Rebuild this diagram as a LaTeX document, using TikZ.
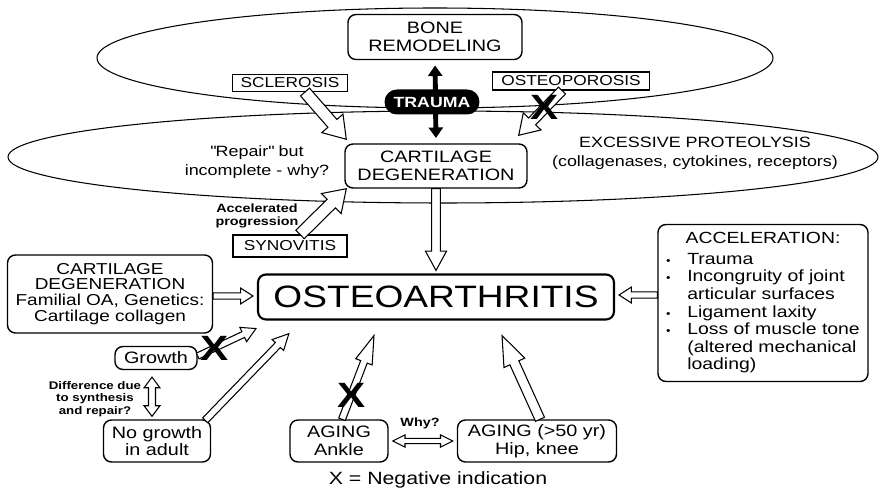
\documentclass[tikz,border=0pt]{standalone}
\usepackage{fontspec}
\setmainfont{Liberation Sans}[FakeStretch=1.2]
\usetikzlibrary{calc,arrows.meta}

\tikzset{
  box/.style={draw, rounded corners=4.5pt, fill=white, line width=0.8pt, align=center, inner sep=0pt, font=\fontsize{9.4}{10.5}\selectfont},
  tag/.style={draw, fill=white, line width=0.6pt, inner sep=0pt, font=\fontsize{8.2}{10}\selectfont},
  note/.style={align=center, font=\fontsize{8.5}{10.8}\selectfont},
  small/.style={align=center, font=\fontsize{6.8}{7}\selectfont\bfseries},
  nomark/.style={inner sep=0pt, font=\fontsize{20}{20}\selectfont\bfseries},
  hollow/.style={draw, fill=white, line width=0.6pt, line join=miter},
}

\newcommand{\dotitem}{\makebox[12pt][l]{\fontsize{6}{6}\selectfont\textbullet}}

% tail, tip, shaft half width, head half width, head length
\newcommand{\hollowarrow}[6][]{%
  \path[hollow,#1] let \p1=(#2), \p2=(#3),
      \n1={atan2(\y2-\y1,\x2-\x1)}, \n2={veclen(\x2-\x1,\y2-\y1)} in
    [shift={(\p1)}, rotate=\n1]
    (0,#4) -- (\n2-#6,#4) -- (\n2-#6,#5) -- (\n2,0)
    -- (\n2-#6,-#5) -- (\n2-#6,-#4) -- (0,-#4) -- cycle;}
\newcommand{\hollowdarrow}[6][]{%
  \path[hollow,#1] let \p1=(#2), \p2=(#3),
      \n1={atan2(\y2-\y1,\x2-\x1)}, \n2={veclen(\x2-\x1,\y2-\y1)} in
    [shift={(\p1)}, rotate=\n1]
    (0,0) -- (#6,#5) -- (#6,#4) -- (\n2-#6,#4) -- (\n2-#6,#5) -- (\n2,0)
    -- (\n2-#6,-#5) -- (\n2-#6,-#4) -- (#6,-#4) -- (#6,-#5) -- cycle;}

\begin{document}
\begin{tikzpicture}[x=0.02cm, y=-0.02cm]
    \useasboundingbox (0,0) rectangle (879,489);

    \draw[line width=0.6pt] (435,58) ellipse [x radius=338, y radius=50];
    \draw[line width=0.6pt] (443,157) ellipse [x radius=435, y radius=46];

    \node[box, minimum width=3.48cm, minimum height=0.9cm] (bone) at (435,37) {BONE\\REMODELING};
    \node[box, minimum width=3.64cm, minimum height=0.88cm] (cart) at (436,166) {CARTILAGE\\DEGENERATION};
    \node[tag, minimum width=2.3cm, minimum height=0.34cm] (scler) at (290,83) {SCLEROSIS};
    \node[tag, minimum width=3.14cm, minimum height=0.36cm] (osteo) at (571,81) {OSTEOPOROSIS};
    \node[tag, minimum width=2.28cm, minimum height=0.44cm] (synov) at (290,246) {SYNOVITIS};
    \node[box, line width=1.2pt, minimum width=7.12cm, minimum height=0.9cm, font=\fontsize{17.6}{18}\selectfont] (oa) at (436,297) {OSTEOARTHRITIS};
    \node[box, minimum width=4.1cm, minimum height=1.56cm, font=\fontsize{9}{9}\selectfont] (cartleft) at (110,294) {CARTILAGE\\DEGENERATION\\Familial OA, Genetics:\\Cartilage collagen};
    \node[box, minimum width=4.2cm, minimum height=3.14cm, font=\fontsize{9.2}{10}\selectfont] (accel) at (763,303) {%
      \begin{tabular}{@{}l@{}}
        \multicolumn{1}{c}{ACCELERATION:}\\[2pt]
        \dotitem Trauma\\
        \dotitem Incongruity of joint\\
        \hspace*{12pt}articular surfaces\\
        \dotitem Ligament laxity\\
        \dotitem Loss of muscle tone\\
        \hspace*{12pt}(altered mechanical\\
        \hspace*{12pt}loading)
      \end{tabular}};
    \node[box, minimum width=1.64cm, minimum height=0.46cm] (growth) at (156,358) {Growth};
    \node[box, minimum width=2.14cm, minimum height=0.84cm, font=\fontsize{9.4}{10}\selectfont] (nogrowth) at (157,441) {No growth\\in adult};
    \node[box, minimum width=1.96cm, minimum height=0.84cm, font=\fontsize{9.4}{10}\selectfont] (ankle) at (339,441) {AGING\\Ankle};
    \node[box, minimum width=3.18cm, minimum height=0.84cm, font=\fontsize{9.4}{10}\selectfont] (hip) at (537,441) {AGING (>50 yr)\\Hip, knee};

    \node[note] (repair) at (257,162) {\textquotedbl Repair\textquotedbl\ but\\incomplete - why?};
    \node[note] (excess) at (695,153) {EXCESSIVE PROTEOLYSIS\\(collagenases, cytokines, receptors)};
    \node[small] (accprog) at (257,216) {Accelerated\\progression};
    \node[small, font=\fontsize{6.3}{7.2}\selectfont\bfseries] (diff) at (95,399) {Difference due\\to synthesis\\and repair?};
    \node[small] (why) at (420,423) {Why?};
    \node[font=\fontsize{10.1}{12}\selectfont] (neg) at (438,480) {X = Negative indication};

    \draw[line width=2.8pt, {Triangle[width=8pt,length=6pt]}-{Triangle[width=8pt,length=6pt]},
          shorten <=3pt, shorten >=3pt] (bone.south) -- (cart.north);
    \node[fill=black, rounded corners=7pt, minimum width=1.9cm, minimum height=0.5cm, inner sep=0pt,
          text=white, font=\fontsize{8.4}{10}\selectfont\bfseries] (trauma) at (432,102) {TRAUMA};

    \hollowarrow{$(scler.south)+(15,0)$}{$(cart.north west)+(2,-4)$}{3.4pt}{8pt}{12pt}
    \hollowarrow{$(osteo.south)+(-9,0)$}{$(cart.north east)+(-9,-8)$}{2.8pt}{7pt}{11pt}
    \hollowarrow{$(synov.north)+(10,0)$}{$(cart.south west)+(2,0)$}{3.4pt}{8pt}{12pt}
    \hollowarrow{cart.south}{$(oa.north)+(0,-3)$}{2.5pt}{6pt}{11pt}
    \hollowarrow{$(cartleft.east)+(0,2)$}{$(oa.west)+(-4,-1)$}{1.8pt}{4.5pt}{7pt}
    \hollowarrow{$(accel.west)+(0,-8)$}{$(oa.east)+(4,-2)$}{1.8pt}{4.5pt}{7pt}
    \hollowarrow{$(growth.east)+(0,-2)$}{$(oa.south west)+(-1,8)$}{1.8pt}{4.5pt}{8pt}
    \hollowarrow{$(nogrowth.north east)+(-6,1)$}{$(oa.south west)+(32,13)$}{2pt}{4.5pt}{9pt}
    \hollowarrow{$(ankle.north)+(3,0)$}{$(oa.south)+(-62,15)$}{2pt}{5pt}{16pt}
    \hollowarrow{$(hip.north)+(3,0)$}{$(oa.south)+(66,15)$}{2.8pt}{6.5pt}{17pt}
    \hollowdarrow{$(growth.south)+(-4,7)$}{$(nogrowth.north)+(-5,-3)$}{2pt}{4.5pt}{6pt}
    \hollowdarrow{$(ankle.east)+(4,0)$}{$(hip.west)+(-4,0)$}{1.5pt}{3.5pt}{7pt}

    \node[nomark] (x1) at (545,107) {X};
    \node[nomark] (x2) at (215,348) {X};
    \node[nomark] (x3) at (352,395) {X};
\end{tikzpicture}
\end{document}
